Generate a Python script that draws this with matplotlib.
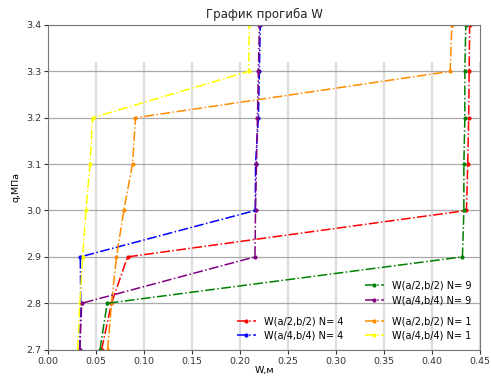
import matplotlib
matplotlib.use("Agg")
from matplotlib import pyplot as plt

# load levels, MPa
q = [2.7, 2.8, 2.9, 3.0, 3.1, 3.2, 3.3, 3.4]

# deflections, m
w_center_n4 = [0.0557, 0.066, 0.0827, 0.4357, 0.437, 0.438, 0.4385, 0.439]
w_quarter_n4 = [0.033, 0.034, 0.0335, 0.2157, 0.216, 0.219, 0.220, 0.221]
w_center_n1 = [0.062, 0.066, 0.0712, 0.0788, 0.0879, 0.091, 0.4187, 0.4205]
w_quarter_n1 = [0.0308, 0.033, 0.036, 0.0394, 0.0436, 0.0463, 0.2089, 0.2095]
w_center_n9 = [0.054, 0.0615, 0.4315, 0.433, 0.433, 0.434, 0.434, 0.435]
w_quarter_n9 = [0.033, 0.035, 0.2154, 0.216, 0.217, 0.218, 0.219, 0.220]

x_ticks = [0.0, 0.05, 0.10, 0.15, 0.20, 0.25, 0.30, 0.35, 0.40, 0.45]

fig = plt.figure(figsize=(4.91, 3.78), dpi=100)
ax = fig.add_axes([0.098, 0.075, 0.880, 0.859])

style = dict(linestyle="-.", marker=".", linewidth=1.1, markersize=4)

# first group: N = 4 and N = 1
l1, = ax.plot(w_center_n4, q, color="red", label="W(a/2,b/2) N= 4", **style)
l2, = ax.plot(w_quarter_n4, q, color="blue", label="W(a/4,b/4) N= 4", **style)
l3, = ax.plot(w_center_n1, q, color="darkorange", label="W(a/2,b/2) N= 1", **style)
l4, = ax.plot(w_quarter_n1, q, color="yellow", label="W(a/4,b/4) N= 1", **style)
# second group: N = 9
l5, = ax.plot(w_center_n9, q, color="green", label="W(a/2,b/2) N= 9", **style)
l6, = ax.plot(w_quarter_n9, q, color="purple", label="W(a/4,b/4) N= 9", **style)

ax.set_xlim(0, 0.45)
ax.set_ylim(2.7, 3.4)
ax.set_xticks(x_ticks)
ax.tick_params(labelsize=6.8, colors="#333333", length=3, pad=2)

# horizontal grid darker, vertical one lighter and stopping short of the top
ax.grid(axis="y", color="#aaaaaa", linewidth=0.9)
ax.vlines(x_ticks[1:], 0, 0.887, transform=ax.get_xaxis_transform(),
          color="#dddddd", linewidth=1.6, zorder=0)
for spine in ax.spines.values():
    spine.set_color("#777777")

ax.set_title("График прогиба W", fontsize=8.5, color="#222222", pad=5)
ax.set_xlabel("W,м", fontsize=6.8, labelpad=0)
ax.set_ylabel("q,МПа", fontsize=6.8, labelpad=4)

leg1 = ax.legend(handles=[l1, l2, l3, l4], ncol=2, loc="lower right",
                 bbox_to_anchor=(1.0, 0.0), fontsize=7, frameon=False,
                 handlelength=2.0, columnspacing=2.2)
ax.add_artist(leg1)
ax.legend(handles=[l5, l6], loc="lower right", bbox_to_anchor=(1.0, 0.11),
          fontsize=7, frameon=False, handlelength=2.0)

fig.savefig("out.png", dpi=100)
